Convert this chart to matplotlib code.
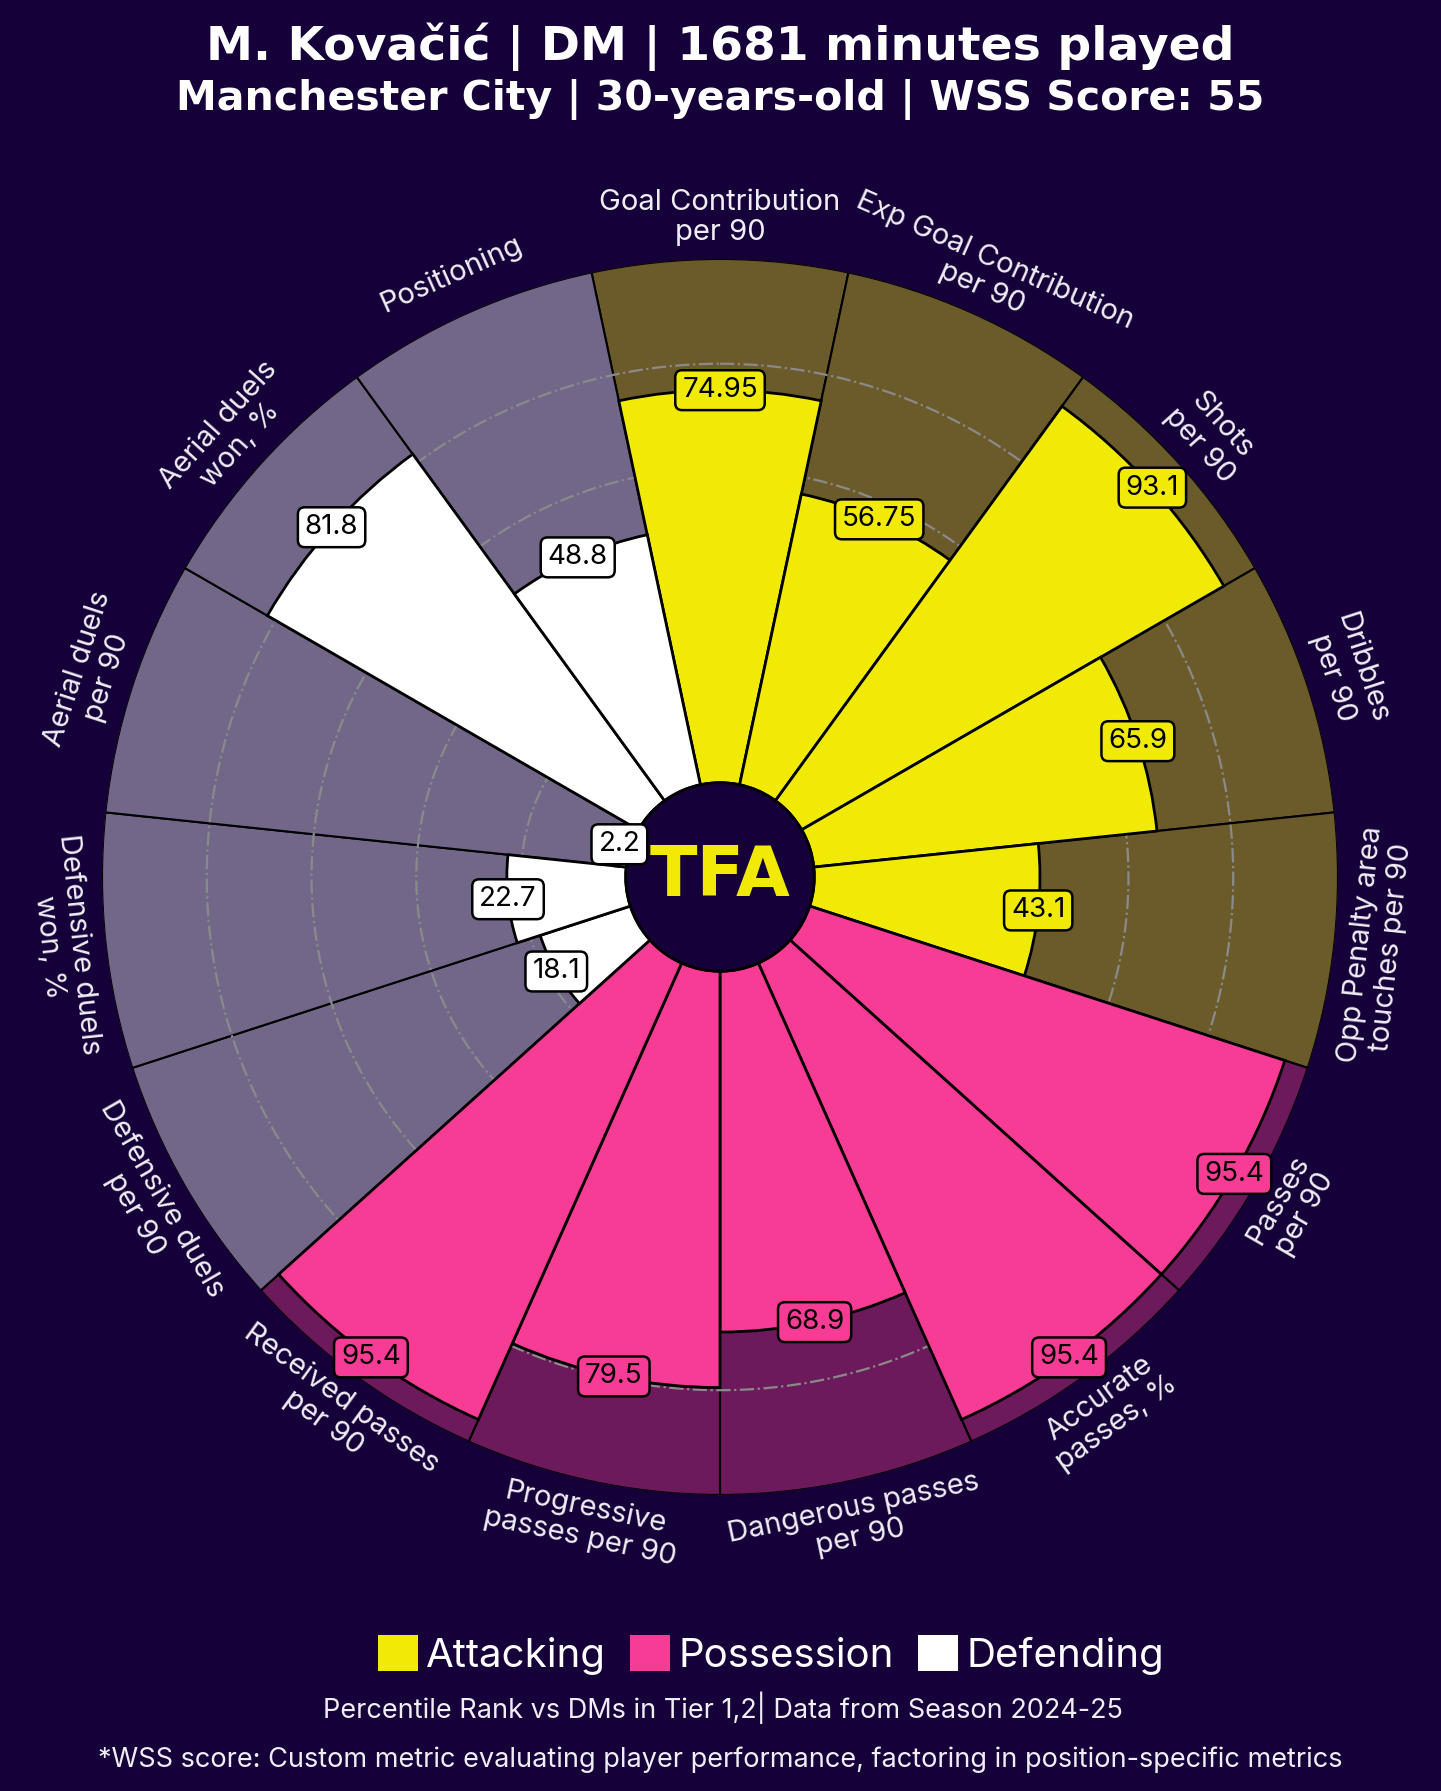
import matplotlib
matplotlib.use("Agg")
import matplotlib.pyplot as plt
from matplotlib.patches import Circle, Patch
import numpy as np

# data
params = ["Goal Contribution\nper 90", "Exp Goal Contribution\nper 90", "Shots\nper 90",
          "Dribbles\nper 90", "Opp Penalty area\ntouches per 90", "Passes\nper 90",
          "Accurate\npasses, %", "Dangerous passes\nper 90", "Progressive\npasses per 90",
          "Received passes\nper 90", "Defensive duels\nper 90", "Defensive duels\nwon, %",
          "Aerial duels\nper 90", "Aerial duels\nwon, %", "Positioning"]
values = [74.95, 56.75, 93.1, 65.9, 43.1, 95.4, 95.4, 68.9, 79.5, 95.4, 18.1, 22.7, 2.2, 81.8, 48.8]
value_text = ["74.95", "56.75", "93.1", "65.9", "43.1", "95.4", "95.4", "68.9", "79.5", "95.4",
              "18.1", "22.7", "2.2", "81.8", "48.8"]
groups = ["Attacking"] * 5 + ["Possession"] * 5 + ["Defending"] * 5
group_names = ["Attacking", "Possession", "Defending"]

title = "M. Kovačić | DM | 1681 minutes played"
subtitle = "Manchester City | 30-years-old | WSS Score: 55"
footer1 = "Percentile Rank vs DMs in Tier 1,2| Data from Season 2024-25"
footer2 = "*WSS score: Custom metric evaluating player performance, factoring in position-specific metrics"

BG = "#16003a"
slice_color = {"Attacking": "#f1e906", "Possession": "#f73c96", "Defending": "#ffffff"}
back_color = {"Attacking": "#6b5b2a", "Possession": "#6d1a5c", "Defending": "#726789"}
FONT = "Inter"
INNER = 18  # hole size in radial units

fig = plt.figure(figsize=(14.41, 17.91), dpi=100, facecolor=BG)
ax = fig.add_axes([0.0708, 0.1653, 0.8577, 0.6901], projection="polar")
ax.set_facecolor(BG)
ax.set_theta_zero_location("N")
ax.set_theta_direction(-1)
ax.set_ylim(0, 100 + INNER)
ax.grid(False)
ax.set_xticks([])
ax.set_yticks([])
ax.spines["polar"].set_visible(False)

n = len(params)
theta = np.linspace(0, 2 * np.pi, n, endpoint=False)
width = 2 * np.pi / n

# background slices
ax.bar(theta, 100, width=width, bottom=INNER,
       color=[back_color[g] for g in groups], edgecolor="black", lw=1.5, zorder=1)

# dash-dot grid circles
tt = np.linspace(0, 2 * np.pi, 400)
for g in [20, 40, 60, 80]:
    ax.plot(tt, np.full_like(tt, INNER + g), color="#8a8a8a", ls="-.", lw=1.6, zorder=2)

# value slices
ax.bar(theta, values, width=width, bottom=INNER,
       color=[slice_color[g] for g in groups], edgecolor="black", lw=2, zorder=3)

# centre hole with logo
hole = Circle((0.5, 0.5), INNER / (100 + INNER) / 2, transform=ax.transAxes,
              fc=BG, ec="black", lw=2, zorder=7)
ax.add_patch(hole)
ax.text(0.5, 0.5, "TFA", transform=ax.transAxes, ha="center", va="center",
        fontsize=50, fontweight="black", family="DejaVu Sans", color="#f1e906", zorder=8)

# value boxes
for t, v, s, g in zip(theta, values, value_text, groups):
    ax.text(t, INNER + v, s, ha="center", va="center", fontsize=20, family=FONT,
            color="black", zorder=10,
            bbox=dict(boxstyle="round,pad=0.25", fc=slice_color[g], ec="black", lw=1.8))

# parameter labels
for t, p in zip(theta, params):
    deg = np.rad2deg(t)
    rot = 180 - deg if 90 < deg < 270 else -deg
    ax.text(t, INNER + 108, p, ha="center", va="center", rotation=rot,
            rotation_mode="anchor", fontsize=21, family=FONT, color="#f0eef5",
            linespacing=1.15, zorder=6)

# titles
fig.text(0.5, 1 - 60 / 1791, title, ha="center", va="baseline", fontsize=34,
         fontweight="bold", family="DejaVu Sans", color="white")
fig.text(0.5, 1 - 110 / 1791, subtitle, ha="center", va="baseline", fontsize=29.5,
         fontweight="bold", family="DejaVu Sans", color="white")

# legend
handles = [Patch(fc=slice_color[g], ec="none", label=g) for g in group_names]
fig.legend(handles=handles, loc="center", bbox_to_anchor=(0.535, 1 - 1655 / 1791), ncol=3,
           frameon=False, prop={"family": FONT, "size": 29}, labelcolor="white",
           handlelength=1.0, handleheight=1.0, handletextpad=0.2, columnspacing=0.6)

fig.text(0.502, 1 - 1718 / 1791, footer1, ha="center", va="baseline", fontsize=19.5,
         family=FONT, color="#f0eef5")
fig.text(0.5, 1 - 1767 / 1791, footer2, ha="center", va="baseline", fontsize=19.5,
         family=FONT, color="#f0eef5")

plt.savefig("out.png", dpi=100, facecolor=BG)
